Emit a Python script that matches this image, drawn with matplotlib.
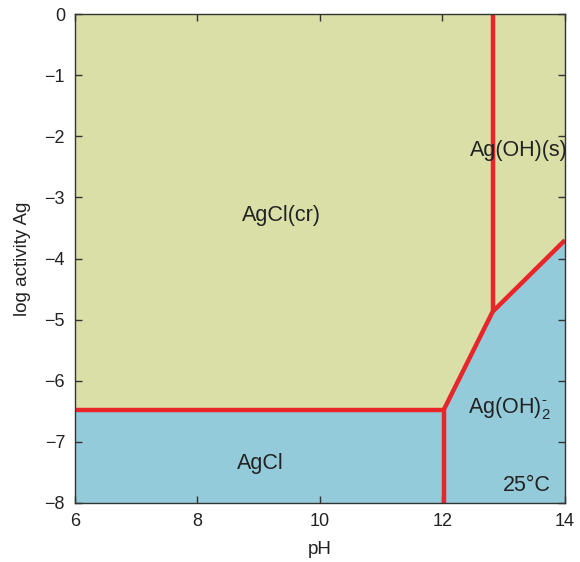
import numpy as np
import matplotlib.pyplot as plt

plt.rcParams['font.family'] = ['Liberation Sans', 'DejaVu Sans']
plt.rcParams['mathtext.fontset'] = 'custom'
plt.rcParams['mathtext.rm'] = 'Liberation Sans'

# boundary points (pH, log activity Ag)
agcl_aq_top_ph = [6, 12.02]
agcl_aq_top_y = [-6.48, -6.48]
agcl_aq_right_ph = [12.02, 12.02]
agcl_aq_right_y = [-8, -6.48]
agcl_cr_edge_ph = [12.02, 12.82]
agcl_cr_edge_y = [-6.48, -4.87]
agoh_s_left_ph = [12.82, 12.82]
agoh_s_left_y = [-4.87, 0]
agoh_s_bottom_ph = [12.82, 14]
agoh_s_bottom_y = [-4.87, -3.7]

xticks = [6, 8, 10, 12, 14]
yticks = [0, -1, -2, -3, -4, -5, -6, -7, -8]

yellow = '#d9dfa6'
blue = '#94cbdb'
red = '#e8262a'
txt = '#222222'

fig = plt.figure(figsize=(5.8, 5.62), dpi=100)
ax = fig.add_axes([0.129, 0.105, 0.845, 0.870])

# background = solid phases, blue = aqueous regions
ax.fill_between([6, 14], -8, 0, color=yellow, lw=0)
ax.fill_between(agcl_aq_top_ph, -8, agcl_aq_top_y, color=blue, lw=0)
ax.fill_between(agcl_cr_edge_ph + agoh_s_bottom_ph[1:],
                -8, agcl_cr_edge_y + agoh_s_bottom_y[1:], color=blue, lw=0)

for px, py in [(agcl_aq_top_ph, agcl_aq_top_y),
               (agcl_aq_right_ph, agcl_aq_right_y),
               (agcl_cr_edge_ph, agcl_cr_edge_y),
               (agoh_s_left_ph, agoh_s_left_y),
               (agoh_s_bottom_ph, agoh_s_bottom_y)]:
    ax.plot(px, py, color=red, lw=3.2, solid_capstyle='butt', solid_joinstyle='miter')

fs = 15.5
ax.text(9.38, -3.3, 'AgCl(cr)', fontsize=fs, ha='center', va='center', color=txt)
ax.text(13.25, -2.24, 'Ag(OH)(s)', fontsize=fs, ha='center', va='center', color=txt)
ax.text(13.1, -6.45, r'$\mathregular{Ag(OH)_2^{\text{-}}}$', fontsize=fs,
        ha='center', va='center', color=txt)
ax.text(9.02, -7.35, 'AgCl', fontsize=fs, ha='center', va='center', color=txt)
ax.text(13.38, -7.72, '25°C', fontsize=fs, ha='center', va='center', color=txt)

ax.set_xlim(6, 14)
ax.set_ylim(-8, 0)
ax.set_xticks(xticks)
ax.set_yticks(yticks)
ax.set_yticklabels(['0'] + ['\u2212%d' % (-v) for v in yticks[1:]])
ax.tick_params(direction='in', top=True, right=True, labeltop=False, labelright=False,
               labelsize=13, length=5, width=1, pad=7, colors='#333333', labelcolor=txt)
ax.set_xlabel('pH', fontsize=13.5, labelpad=8, color=txt)
ax.set_ylabel('log activity Ag', fontsize=13.5, labelpad=10, color=txt)
for s in ax.spines.values():
    s.set_linewidth(1.0)
    s.set_color('#333333')

fig.savefig('out.png', dpi=100)
